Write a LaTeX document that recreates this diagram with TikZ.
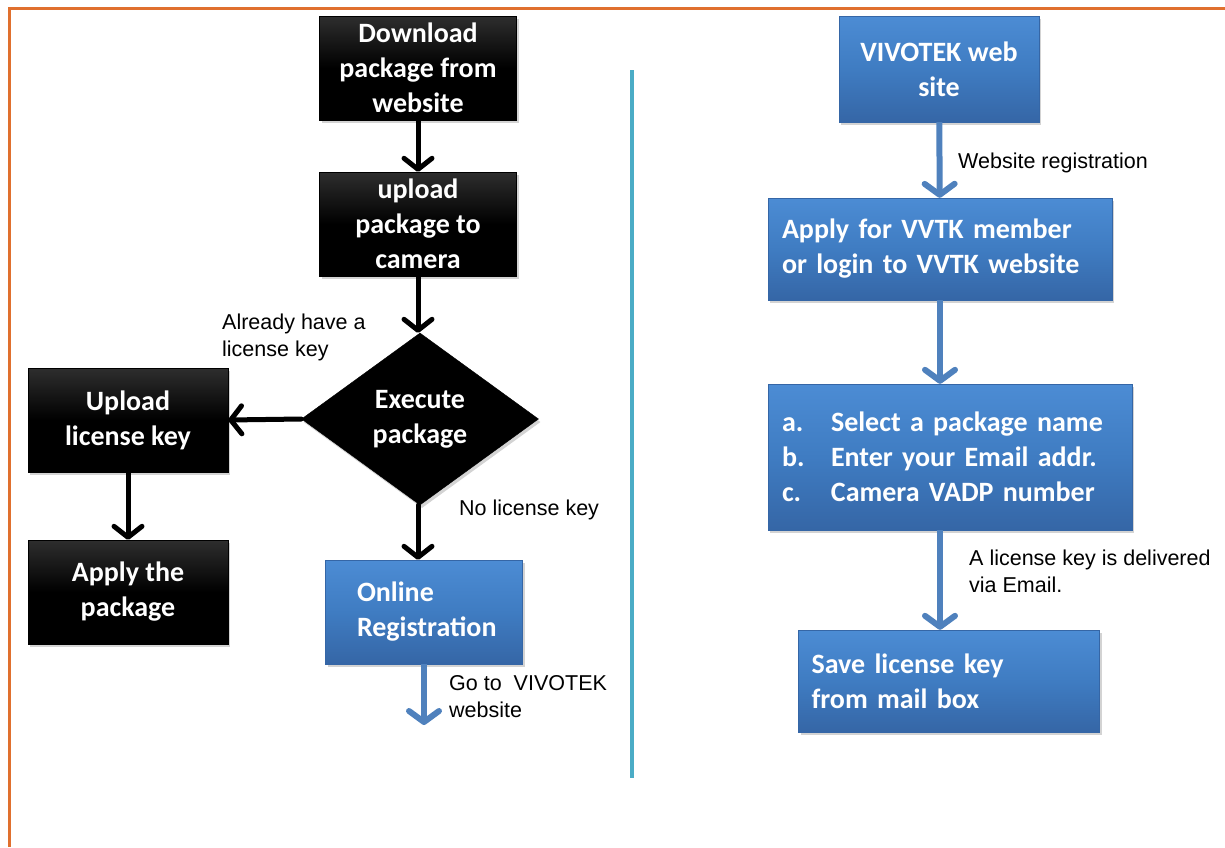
\documentclass[tikz,border=0pt]{standalone}
\usepackage{fontspec}
\setmainfont{Carlito}
\newfontfamily\labelfont{Liberation Sans}
\usetikzlibrary{shapes.geometric, arrows.meta, positioning, shadows, calc}

\definecolor{frameorange}{HTML}{E0702E}
\definecolor{boxblue}{HTML}{3F7CC2}
\definecolor{boxbluetop}{HTML}{4C8CD4}
\definecolor{boxbluebot}{HTML}{3566A6}
\definecolor{arrowblue}{HTML}{4F81BD}
\definecolor{dividercyan}{HTML}{4BACC6}

\begin{document}
\begin{tikzpicture}[
    x=1pt, y=-1pt,
    boxfont/.style={font=\bfseries\fontsize{28}{35}\selectfont, text=white},
    blackbox/.style={rectangle, boxfont, minimum width=197pt, minimum height=104pt, align=center,
        top color=black!82, bottom color=black, middle color=black, draw=black,
        drop shadow={shadow xshift=2pt, shadow yshift=-3pt, opacity=0.35}},
    bluebox/.style={rectangle, boxfont, minimum height=104pt, draw=boxbluebot,
        top color=boxbluetop, bottom color=boxbluebot, middle color=boxblue,
        drop shadow={shadow xshift=2pt, shadow yshift=-3pt, opacity=0.35}},
    decision/.style={diamond, boxfont, aspect=1.38, inner sep=0pt, minimum width=237pt, minimum height=172pt,
        fill=black, draw=black, align=center,
        drop shadow={shadow xshift=2pt, shadow yshift=-3pt, opacity=0.35}},
    note/.style={font=\labelfont\fontsize{21.5}{27}\selectfont, align=left, anchor=west, inner sep=0pt},
    arrow/.style={line width=5pt, -{Straight Barb[length=11pt, width=28pt, round]}, line cap=round, black},
    bluearrow/.style={line width=6pt, -{Straight Barb[length=11pt, width=30pt, round]}, arrowblue},
]

    \useasboundingbox (0,0) rectangle (1225,847);
    \draw [frameorange, line width=3pt] (9,847) -- (9,8) -- (1225,8);

    % left flow
    \node (download) [blackbox] at (418,68) {Download\\package from\\website};
    \node (upload) [blackbox] at (418,224) {upload\\package to\\camera};
    \node (execute) [decision] at (420,419) {Execute\\package};
    \node (lickey) [blackbox, minimum width=200pt] at (128,420) {Upload\\license key};
    \node (applypkg) [blackbox, minimum width=200pt] at (128,592) {Apply the\\package};
    \node (online) [bluebox, minimum width=197pt, text width=166pt, inner xsep=0pt, align=left] at (424,612)
        {\hspace*{16pt}Online\\\hspace*{16pt}Registration};
    \coordinate (goto) at (424,725);

    \node (havekey) [note] at (222,337) {Already have a\\license key};
    \node (nokey) [note] at (459,510) {No license key};
    \node (gotonote) [note] at (449,697) {Go to\ \ VIVOTEK\\website};

    \draw [arrow] (download) -- (upload);
    \draw [arrow] (upload.south) -- (upload.south |- execute.north);
    \draw [arrow] (execute.west) -- (lickey.east);
    \draw [arrow] (lickey) -- (applypkg);
    \draw [arrow] (execute.south -| upload.south) -- (upload.south |- online.north);
    \draw [bluearrow] (online) -- (goto);

    % divider
    \coordinate (divtop) at (632,70);
    \coordinate (divbot) at (632,778);
    \draw [dividercyan, line width=4pt] (divtop) -- (divbot);

    % right flow
    \node (website) [bluebox, minimum width=200pt, minimum height=106pt, align=center] at (939,69) {VIVOTEK web\\site};
    \node (member) [bluebox, minimum width=344pt, minimum height=102pt, text width=316pt, inner xsep=0pt, align=left] at (940,249) {Apply for VVTK member\\or login to VVTK website};
    \node (form) [bluebox, minimum width=364pt, minimum height=146pt, text width=336pt, inner xsep=0pt, align=left] at (950,457)
        {\makebox[49pt][l]{a.}Select a package name\\\makebox[49pt][l]{b.}Enter your Email addr.\\\makebox[49pt][l]{c.}Camera VADP number};
    \node (savekey) [bluebox, minimum width=301pt, minimum height=102pt, text width=275pt, inner xsep=0pt, align=left] at (949,681) {Save license key\\from mail box};

    \node (regnote) [note] at (958,163) {Website registration};
    \node (mailnote) [note] at (969,571) {A license key is delivered\\via Email.};

    \draw [bluearrow] (website) -- (member);
    \draw [bluearrow] (member.south) -- (member.south |- form.north);
    \draw [bluearrow] (form.south -| member.south) -- (savekey.north -| member.south);

\end{tikzpicture}
\end{document}
